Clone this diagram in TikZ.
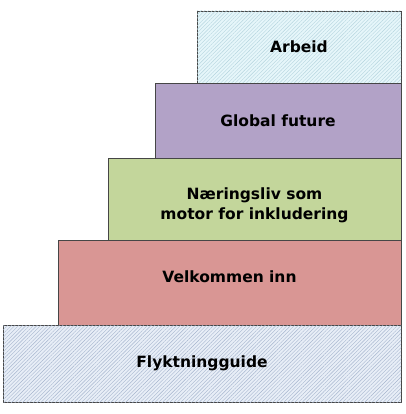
\documentclass[tikz,border=0pt]{standalone}
\usepackage{fontspec}
\setmainfont{DejaVu Sans}
\usetikzlibrary{patterns.meta}

\definecolor{arbeidbg}{RGB}{230,246,250}
\definecolor{arbeidln}{RGB}{180,212,222}
\definecolor{globalbg}{RGB}{178,162,199}
\definecolor{naeringbg}{RGB}{195,214,155}
\definecolor{velkombg}{RGB}{217,150,148}
\definecolor{flyktbg}{RGB}{232,238,247}
\definecolor{flyktln}{RGB}{165,180,205}
\definecolor{edge}{RGB}{70,70,70}

\begin{document}
\begin{tikzpicture}[
    x=1pt, y=-1pt,
    stair/.style={draw=edge, line width=0.9pt},
    hatch/.style={postaction={pattern={Lines[angle=45, distance=2.6pt, line width=0.4pt]}, pattern color=#1}},
    label/.style={font=\bfseries\fontsize{15.5}{20}\selectfont, align=center, text=black},
]
\useasboundingbox (0,0) rectangle (405,414);

% === Trinn (fra toppen og ned) ===
\draw[stair, fill=arbeidbg, hatch=arbeidln] (197,11) rectangle (401,83)
    node[midway, label] (arbeid) {Arbeid};
\draw[stair, fill=globalbg] (155,83) rectangle (401,158)
    node[midway, label] (global) {Global future};
\draw[stair, fill=naeringbg] (108,158) rectangle (401,240)
    node[midway, label, yshift=-6pt] (naering) {Næringsliv som\\motor for inkludering};
\draw[stair, fill=velkombg] (58,240) rectangle (401,325)
    node[midway, label, yshift=6pt] (velkommen) {Velkommen inn};
\draw[stair, fill=flyktbg, hatch=flyktln] (3,325) rectangle (401,402)
    node[midway, label] (flykt) {Flyktningguide};

\end{tikzpicture}
\end{document}
